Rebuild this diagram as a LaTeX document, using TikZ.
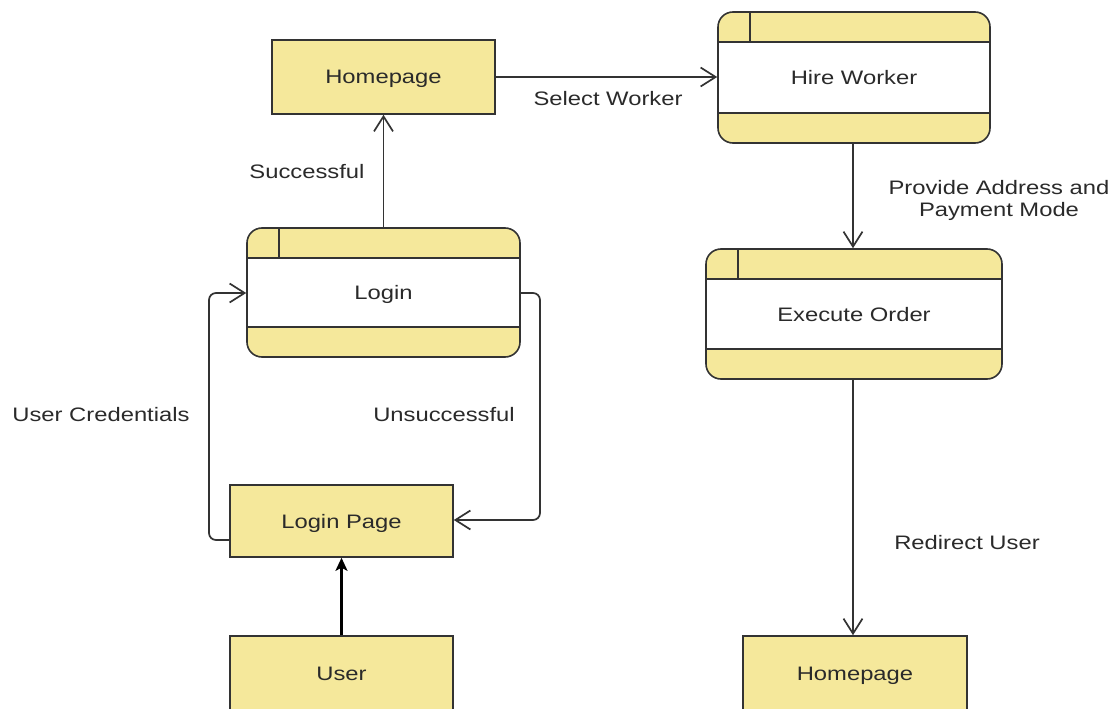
\documentclass[tikz,border=0pt]{standalone}
\usepackage{fontspec}
\setmainfont{Liberation Sans}[FakeStretch=1.22]
\usetikzlibrary{arrows.meta}
\definecolor{boxfill}{HTML}{F5E89B}
\definecolor{edge}{HTML}{333333}
\definecolor{txt}{HTML}{2A2A2A}
\begin{document}
\begin{tikzpicture}[x=1pt,y=-1pt,
  font=\fontsize{19.5}{22}\selectfont,
  every node/.style={text=txt},
  plainbox/.style={draw=edge, line width=1.6pt, fill=boxfill, minimum width=223pt, minimum height=74pt, inner sep=0pt, text height=14pt, text depth=0pt},
  procbox/.style={draw=edge, line width=1.6pt, fill=boxfill, rounded corners=15pt, inner sep=0pt, text height=14pt, text depth=0pt,
    path picture={
      \fill[white, sharp corners] ([yshift=-30pt]path picture bounding box.north west) rectangle ([yshift=30pt]path picture bounding box.south east);
      \draw[edge, line width=1.6pt, sharp corners] ([yshift=-30pt]path picture bounding box.north west) -- ([yshift=-30pt]path picture bounding box.north east);
      \draw[edge, line width=1.6pt, sharp corners] ([yshift=30pt]path picture bounding box.south west) -- ([yshift=30pt]path picture bounding box.south east);
      \draw[edge, line width=1.6pt, sharp corners] ([xshift=32pt]path picture bounding box.north west) -- ([xshift=32pt,yshift=-30pt]path picture bounding box.north west);
    }},
  flow/.style={draw=edge, line width=1.7pt, -{Straight Barb[length=15pt,width=19pt]}},
  lbl/.style={inner sep=0pt, align=center, text height=14pt, text depth=0pt},
  lbltwo/.style={inner sep=0pt, align=center}
]
\useasboundingbox (0,0) rectangle (1112,709);
\clip (0,0) rectangle (1112,709);
\fill[white] (0,0) rectangle (1112,709);

\node[plainbox] (home1) at (383.5,77) {Homepage};
\node[procbox, minimum width=272pt, minimum height=131pt] (hire) at (854,77.5) {Hire Worker};
\node[procbox, minimum width=273pt, minimum height=129pt] (login) at (383.5,292.5) {Login};
\node[procbox, minimum width=296pt, minimum height=130pt] (exec) at (854,314) {Execute Order};
\node[plainbox, minimum height=72pt] (lpage) at (341.5,521) {Login Page};
\node[plainbox] (user) at (341.5,673) {User};
\node[plainbox, minimum width=224pt] (home2) at (855,673) {Homepage};

\coordinate (c1) at (209,540);
\coordinate (c2) at (209,293);
\coordinate (d1) at (540,293);
\coordinate (d2) at (540,520);

\draw[flow] (home1.east) -- (hire.west |- home1.east);
\draw[flow] (login.north) -- (home1.south);
\draw[flow, rounded corners=7pt] (lpage.west |- c1) -- (c1) -- (c2) -- (login.west |- c2);
\draw[flow, rounded corners=7pt] (login.east |- d1) -- (d1) -- (d2) -- (lpage.east |- d2);
\draw[line width=2.2pt, black, -{Stealth[length=13pt,width=12pt,inset=3pt]}] (user.north) -- (lpage.south);
\draw[flow] (hire.south -| 853,0) -- (exec.north -| 853,0);
\draw[flow] (exec.south -| 853,0) -- (home2.north -| 853,0);

\node[lbl] (l1) at (608,99) {Select Worker};
\node[lbl] (l2) at (307,171) {Successful};
\node[lbl] (l3) at (101,414) {User Credentials};
\node[lbl] (l4) at (444,414) {Unsuccessful};
\node[lbltwo] (l5) at (999,200) {Provide Address and\\Payment Mode};
\node[lbl] (l6) at (967,542) {Redirect User};
\end{tikzpicture}
\end{document}
